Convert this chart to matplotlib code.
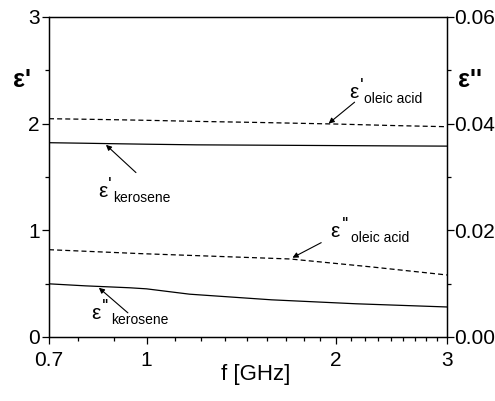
import matplotlib
matplotlib.use('Agg')
import matplotlib.pyplot as plt
from matplotlib.ticker import FixedLocator, NullFormatter
from matplotlib.transforms import offset_copy

plt.rcParams['font.family'] = ['Liberation Sans', 'DejaVu Sans']

# frequency points [GHz]
freq_re = [0.7, 0.8, 0.9, 1.0, 1.2, 1.5, 2.0, 2.5, 3.0]
eps1_kerosene = [1.82, 1.815, 1.81, 1.806, 1.80, 1.797, 1.793, 1.79, 1.788]
eps1_oleic = [2.045, 2.04, 2.035, 2.03, 2.02, 2.01, 1.995, 1.98, 1.97]

freq_im = [0.7, 0.8, 0.94, 1.0, 1.17, 1.58, 2.15, 3.0]
eps2_kerosene = [0.00994, 0.00956, 0.0092, 0.0090, 0.0080, 0.00694, 0.0062, 0.0056]
freq_im2 = [0.7, 0.98, 1.69, 2.28, 3.0]
eps2_oleic = [0.01634, 0.0156, 0.0146, 0.0131, 0.0116]

x_major = [0.7, 1, 2, 3]
x_labels = ['0.7', '1', '2', '3']
x_minor = [7/9, 8/9] + [1 + k/9 for k in range(1, 9)] + [2 + k/9 for k in range(1, 9)]

fig = plt.figure(figsize=(4.95, 4.01), dpi=100)
ax = fig.add_axes([0.099, 0.160, 0.804, 0.798])
ax2 = ax.twinx()

dash = (0, (4, 2.5))
ax.plot(freq_re, eps1_kerosene, color='black', lw=0.9)
ax.plot(freq_re, eps1_oleic, color='black', lw=0.9, linestyle=dash)
ax2.plot(freq_im, eps2_kerosene, color='black', lw=0.9)
ax2.plot(freq_im2, eps2_oleic, color='black', lw=0.9, linestyle=dash)

ax.set_xscale('log')
ax.set_xlim(0.7, 3)
ax.xaxis.set_major_locator(FixedLocator(x_major))
ax.set_xticklabels(x_labels)
ax.xaxis.set_minor_locator(FixedLocator(x_minor))
ax.xaxis.set_minor_formatter(NullFormatter())

ax.set_ylim(0, 3)
ax.set_yticks([0, 1, 2, 3])
ax.set_yticks([0.5, 1.5, 2.5], minor=True)
ax2.set_ylim(0, 0.06)
ax2.set_yticks([0, 0.02, 0.04, 0.06])
ax2.set_yticklabels(['0.00', '0.02', '0.04', '0.06'])
ax2.set_yticks([0.01, 0.03, 0.05], minor=True)

for a in (ax, ax2):
    a.tick_params(which='major', direction='out', length=5, width=0.9, labelsize=15, pad=1.5)
    a.tick_params(which='minor', direction='out', length=3, width=0.9)
    for s in a.spines.values():
        s.set_linewidth(0.9)
ax.tick_params(axis='x', which='major', pad=5)
ax2.tick_params(axis='y', which='major', pad=0.5)

ax.set_xlabel('f [GHz]', fontsize=16, labelpad=3)
ax.xaxis.set_label_coords(0.52, -0.085)
fig.text(0.044, 0.80, "ε'", fontsize=18, fontweight='bold', ha='center', va='center')
fig.text(0.950, 0.80, "ε''", fontsize=18, fontweight='bold', ha='center', va='center')


def eps_label(a, x, y, prime, sub, dx_p, dx_s):
    a.text(x, y, 'ε', fontsize=15, ha='left', va='center')
    tp = offset_copy(a.transData, fig=fig, x=dx_p, y=6, units='dots')
    a.text(x, y, prime, fontsize=14, ha='left', va='center', transform=tp)
    ts = offset_copy(a.transData, fig=fig, x=dx_s, y=-6, units='dots')
    a.text(x, y, sub, fontsize=10, ha='left', va='center', transform=ts)


arrow = dict(arrowstyle='-|>', color='black', lw=0.8, mutation_scale=8, shrinkA=0, shrinkB=0)

eps_label(ax, 2.10, 2.29, "'", 'oleic acid', 10, 15)
ax.annotate('', xy=(1.946, 2.0), xytext=(2.14, 2.20), arrowprops=arrow)

eps_label(ax, 0.837, 1.36, "'", 'kerosene', 10, 15)
ax.annotate('', xy=(0.862, 1.80), xytext=(0.962, 1.54), arrowprops=arrow)

eps_label(ax2, 1.96, 0.0197, "''", 'oleic acid', 11, 20)
ax2.annotate('', xy=(1.705, 0.01484), xytext=(1.894, 0.01766), arrowprops=arrow)

eps_label(ax2, 0.816, 0.00432, "''", 'kerosene', 11, 20)
ax2.annotate('', xy=(0.84, 0.0092), xytext=(0.934, 0.0045), arrowprops=arrow)

fig.savefig('out.png', dpi=100)
